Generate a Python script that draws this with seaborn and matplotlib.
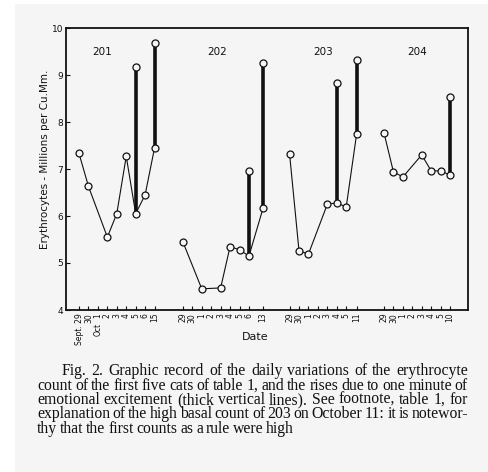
import numpy as np
import pandas as pd
import matplotlib
matplotlib.use('Agg')
from matplotlib import pyplot as plt
from matplotlib.patches import Rectangle
import seaborn as sns

# cats and day slots (date axis with gaps between the cats)
cats = ['201', '202', '203', '204']

x_201 = [0, 1, 3, 4, 5, 6, 7, 8]
y_201 = [7.33, 6.63, 5.55, 6.05, 7.27, 6.05, 6.45, 7.45]
x_202 = [11, 13, 15, 16, 17, 18, 19.5]
y_202 = [5.45, 4.45, 4.47, 5.35, 5.28, 5.15, 6.17]
x_203 = [22.3, 23.3, 24.3, 26.3, 27.3, 28.3, 29.4]
y_203 = [7.32, 5.26, 5.19, 6.25, 6.28, 6.19, 7.74]
x_204 = [32.3, 33.3, 34.3, 36.3, 37.3, 38.3, 39.3]
y_204 = [7.77, 6.94, 6.83, 7.30, 6.96, 6.96, 6.87]

# rises after one minute of excitement (thick lines)
rise_x = [6, 8, 18, 19.5, 27.3, 29.4, 39.3]
rise_lo = [6.05, 7.45, 5.15, 6.17, 6.28, 7.74, 6.87]
rise_hi = [9.17, 9.68, 6.96, 9.25, 8.83, 9.32, 8.53]

tick_slots = [0, 1, 2, 3, 4, 5, 6, 7, 8,
              11, 12, 13, 14, 15, 16, 17, 18, 19.5,
              22.3, 23.3, 24.3, 25.3, 26.3, 27.3, 28.3, 29.4,
              32.3, 33.3, 34.3, 35.3, 36.3, 37.3, 38.3, 39.3]
tick_labels = ['Sept. 29', '30', '1', '2', '3', '4', '5', '6', '15',
               '29', '30', '1', '2', '3', '4', '5', '6', '13',
               '29', '30', '1', '2', '3', '4', '5', '11',
               '29', '30', '1', '2', '3', '4', '5', '10']

caption = ["Fig. 2. Graphic record of the daily variations of the erythrocyte",
           "count of the first five cats of table 1, and the rises due to one minute of",
           "emotional excitement (thick vertical lines). See footnote, table 1, for",
           "explanation of the high basal count of 203 on October 11: it is notewor-",
           "thy that the first counts as a rule were high"]

df = pd.concat([pd.DataFrame({'cat': c, 'slot': xs, 'count': ys})
                for c, xs, ys in zip(cats, [x_201, x_202, x_203, x_204],
                                     [y_201, y_202, y_203, y_204])])

sns.set_style('ticks')
plt.rcParams['font.family'] = ['DejaVu Sans']
bg = '#f5f5f5'
ink = '#111111'

W, H = 489, 472
fig = plt.figure(figsize=(W / 100, H / 100), dpi=100)
fig.patch.set_facecolor('white')
fig.patches.append(Rectangle((15 / W, 0), 1 - 15 / W, 1 - 4 / H, transform=fig.transFigure,
                             facecolor=bg, edgecolor='none', zorder=-10))

ax = fig.add_axes([66 / W, 1 - 310 / H, (468 - 66) / W, (310 - 28) / H])
ax.set_facecolor(bg)

ax.vlines(rise_x, rise_lo, rise_hi, color=ink, lw=2.6, zorder=2)
sns.lineplot(data=df, x='slot', y='count', units='cat', estimator=None, sort=False,
             color=ink, lw=0.8, marker='o', markersize=5, markerfacecolor=bg,
             markeredgecolor=ink, markeredgewidth=0.9, legend=False, ax=ax, zorder=3)
sns.scatterplot(x=rise_x, y=rise_hi, marker='o', s=26, color=bg, edgecolor=ink,
                linewidth=0.9, legend=False, ax=ax, zorder=4)

ax.set_xlim(-1.38, 41.2)
ax.set_ylim(4, 10)
ax.set_xticks(tick_slots)
ax.set_xticklabels(tick_labels, rotation=90, fontsize=5.5)
ax.set_yticks(range(4, 11))
ax.set_yticklabels([str(v) for v in range(4, 11)], fontsize=6.5)
ax.tick_params(direction='in', length=3, width=0.8, pad=2, colors=ink)
for s in ax.spines.values():
    s.set_linewidth(1.3)
    s.set_color(ink)
ax.set_xlabel('')
ax.set_ylabel('')

ax.text(2, -0.045, 'Oct', transform=ax.get_xaxis_transform(), rotation=90,
        ha='center', va='top', fontsize=5.5, color=ink)

for c, gx in zip(cats, [0.09, 0.376, 0.639, 0.873]):
    ax.text(gx, 0.915, c, transform=ax.transAxes, ha='center', va='center',
            fontsize=7.5, color=ink)

fig.text(255 / W, 1 - 337 / H, 'Date', ha='center', va='center', fontsize=8, color=ink)
fig.text(45 / W, 1 - 159 / H, 'Erythrocytes - Millions per Cu.Mm.', rotation=90,
         ha='center', va='center', fontsize=7.5, color=ink)

# justified caption
renderer = fig.canvas.get_renderer()
baselines = [375, 389.5, 404, 418.5, 433]
for i, line in enumerate(caption):
    x0 = 62 if i == 0 else 37
    x1 = 468
    words = line.split()
    texts = [fig.text(0, 1 - baselines[i] / H, w, fontsize=11.3, family='Liberation Serif',
                      va='baseline', color=ink) for w in words]
    widths = [t.get_window_extent(renderer).width for t in texts]
    if i < len(caption) - 1:
        gap = (x1 - x0 - sum(widths)) / (len(words) - 1)
    else:
        gap = 2.8
    x = x0
    for t, w in zip(texts, widths):
        t.set_x(x / W)
        x += w + gap

fig.savefig('out.png', dpi=100, facecolor='white')
